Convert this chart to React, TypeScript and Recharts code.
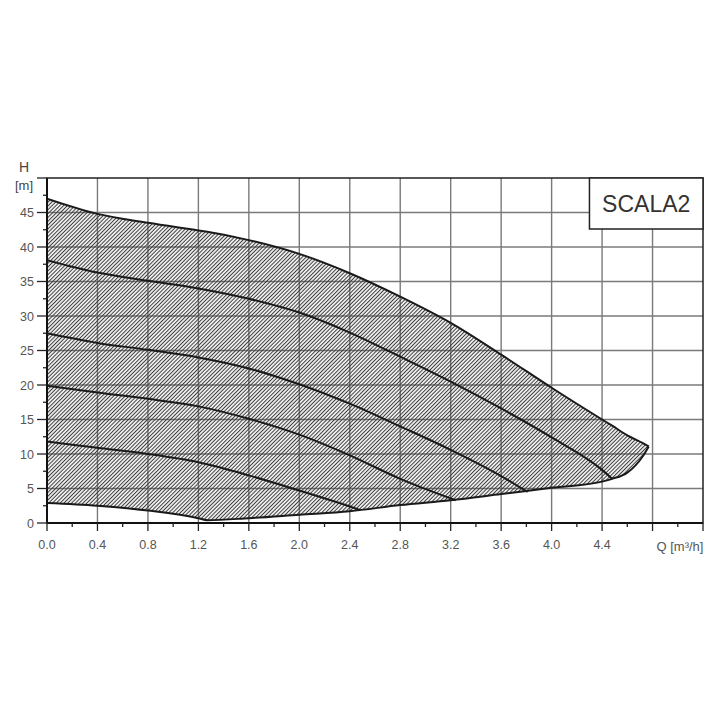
import { Area, CartesianGrid, ComposedChart, Label, Line, ReferenceArea, XAxis, YAxis } from "recharts";

// envelope of the operating range (shared Q points for upper and lower edge)
const envelopeQ = [0, 0.4, 0.8, 1.2, 1.27, 1.6, 2.0, 2.4, 2.8, 3.2, 3.6, 4.0, 4.4, 4.48, 4.6, 4.72, 4.77];
const envelopeTop = [47, 44.8, 43.5, 42.4, 42.2, 41.0, 39.0, 36.2, 32.8, 29.0, 24.4, 19.6, 15.0, 14.1, 12.7, 11.6, 11.1];
const envelopeBottom = [2.9, 2.5, 1.8, 0.7, 0.4, 0.7, 1.2, 1.7, 2.6, 3.3, 4.2, 5.1, 6.0, 6.4, 7.3, 9.6, 11.1];

// intermediate pump curves
const curve38Q = [0, 0.4, 0.8, 1.2, 1.6, 2.0, 2.4, 2.8, 3.2, 3.6, 4.0, 4.4, 4.48];
const curve38H = [38.1, 36.3, 35.1, 34.0, 32.5, 30.5, 27.6, 24.1, 20.5, 16.6, 12.4, 7.7, 6.4];

const curve27Q = [0, 0.4, 0.8, 1.2, 1.6, 2.0, 2.4, 2.8, 3.2, 3.6, 3.81];
const curve27H = [27.5, 26.1, 25.1, 24.0, 22.4, 20.1, 17.3, 14.0, 10.6, 6.8, 4.5];

const curve20Q = [0, 0.4, 0.8, 1.2, 1.6, 2.0, 2.4, 2.8, 3.24];
const curve20H = [19.9, 18.9, 18.0, 16.9, 15.1, 12.8, 9.8, 6.4, 3.3];

const curve12Q = [0, 0.4, 0.8, 1.2, 1.6, 2.0, 2.4, 2.48];
const curve12H = [11.8, 10.9, 10.0, 8.8, 6.9, 4.7, 2.4, 1.9];

// axes
const xTicks = [0, 0.2, 0.4, 0.6, 0.8, 1.0, 1.2, 1.4, 1.6, 1.8, 2.0, 2.2, 2.4, 2.6, 2.8, 3.0, 3.2, 3.4, 3.6, 3.8, 4.0, 4.2, 4.4, 4.6, 4.8, 5.0, 5.2];
const xGrid = [0.4, 0.8, 1.2, 1.6, 2.0, 2.4, 2.8, 3.2, 3.6, 4.0, 4.4, 4.8];
const xLabelTicks = [0, 0.4, 0.8, 1.2, 1.6, 2.0, 2.4, 2.8, 3.2, 3.6, 4.0, 4.4];
const xTickLabels = ["0.0", "0.4", "0.8", "1.2", "1.6", "2.0", "2.4", "2.8", "3.2", "3.6", "4.0", "4.4"];

const yTicks = [0, 2.5, 5, 7.5, 10, 12.5, 15, 17.5, 20, 22.5, 25, 27.5, 30, 32.5, 35, 37.5, 40, 42.5, 45, 47.5, 50];
const yGrid = [5, 10, 15, 20, 25, 30, 35, 40, 45];
const yLabelTicks = [0, 5, 10, 15, 20, 25, 30, 35, 40, 45];
const yTickLabels = ["0", "5", "10", "15", "20", "25", "30", "35", "40", "45"];

const envelopeData = envelopeQ.map((q, i) => ({ q, range: [envelopeBottom[i], envelopeTop[i]] }));
const toPoints = (qs: number[], hs: number[]) => qs.map((q, i) => ({ q, h: hs[i] }));
const curves = [
  toPoints(curve38Q, curve38H),
  toPoints(curve27Q, curve27H),
  toPoints(curve20Q, curve20H),
  toPoints(curve12Q, curve12H)
];

const FONT = "'Liberation Sans', Arial, sans-serif";
const near = (a: number, b: number) => Math.abs(a - b) < 1e-6;

function QTick(props: any) {
  const { x, y, payload } = props;
  const v = payload.value;
  const major = near(v / 0.4, Math.round(v / 0.4));
  const idx = xLabelTicks.findIndex((t) => near(t, v));
  return (
    <g>
      <line x1={x} x2={x} y1={y} y2={y + (major ? 8 : 4)} stroke="#222" strokeWidth={1.3} />
      {idx >= 0 && (
        <text x={x} y={y + 26} textAnchor="middle" fontSize={12.5} fontFamily={FONT} fill="#555">
          {xTickLabels[idx]}
        </text>
      )}
    </g>
  );
}

function HTick(props: any) {
  const { x, y, payload } = props;
  const v = payload.value;
  const major = near(v / 5, Math.round(v / 5));
  const idx = yLabelTicks.findIndex((t) => near(t, v));
  return (
    <g>
      <line x1={x - (major ? 10 : 4)} x2={x} y1={y} y2={y} stroke="#222" strokeWidth={1.3} />
      {idx >= 0 && (
        <text x={x - 13} y={y + 4.5} textAnchor="end" fontSize={12.5} fontFamily={FONT} fill="#555">
          {yTickLabels[idx]}
        </text>
      )}
    </g>
  );
}

export default function App() {
  return (
    <div style={{ position: "absolute", left: 0, top: 0, background: "#fff" }}>
      <ComposedChart width={720} height={720} margin={{ top: 178, right: 17, bottom: 167, left: 7 }}>
        <defs>
          <pattern id="hatch" width={2.7} height={2.7} patternUnits="userSpaceOnUse" patternTransform="rotate(45)">
            <line x1={1.35} y1={0} x2={1.35} y2={2.7} stroke="#3a3a3a" strokeWidth={1.1} />
          </pattern>
        </defs>
        <CartesianGrid stroke="#7a7a7a" strokeWidth={1.4} verticalValues={xGrid} horizontalValues={yGrid} />
        <XAxis
          type="number"
          dataKey="q"
          domain={[0, 5.2]}
          ticks={xTicks}
          interval={0}
          height={30}
          tickSize={0}
          tickMargin={0}
          tickLine={false}
          tick={(p: any) => <QTick {...p} />}
          axisLine={{ stroke: "#111", strokeWidth: 2 }}
          allowDataOverflow
        >
          <Label
            content={(p: any) => {
              const vb = p.viewBox;
              return (
                <text x={vb.x + vb.width - 23} y={vb.y + 28} textAnchor="middle" fontSize={13} fontFamily={FONT} fill="#555">
                  Q [m³/h]
                </text>
              );
            }}
          />
        </XAxis>
        <YAxis
          type="number"
          dataKey="h"
          domain={[0, 50]}
          ticks={yTicks}
          interval={0}
          width={40}
          tickSize={0}
          tickMargin={0}
          tickLine={false}
          tick={(p: any) => <HTick {...p} />}
          axisLine={{ stroke: "#111", strokeWidth: 2 }}
          allowDataOverflow
        >
          <Label
            content={(p: any) => {
              const vb = p.viewBox;
              const cx = vb.x + vb.width - 23;
              return (
                <g fontFamily={FONT} fill="#444" textAnchor="middle">
                  <text x={cx} y={vb.y - 6} fontSize={14}>H</text>
                  <text x={cx} y={vb.y + 12} fontSize={13}>[m]</text>
                </g>
              );
            }}
          />
        </YAxis>
        <Area
          data={envelopeData}
          dataKey="range"
          type="monotone"
          fill="url(#hatch)"
          fillOpacity={1}
          stroke="#1a1a1a"
          strokeWidth={2}
          isAnimationActive={false}
        />
        {curves.map((pts, i) => (
          <Line
            key={i}
            data={pts}
            dataKey="h"
            type="monotone"
            stroke="#1a1a1a"
            strokeWidth={2}
            dot={false}
            activeDot={false}
            isAnimationActive={false}
          />
        ))}
        <ReferenceArea x1={0} x2={5.2} y1={0} y2={50} fill="none" stroke="#222" strokeWidth={1.5} />
        <ReferenceArea x1={4.3} x2={5.2} y1={42.6} y2={50} fill="#fff" fillOpacity={1} stroke="#222" strokeWidth={1.5}>
          <Label value="SCALA2" position="center" fontSize={23} fontFamily={FONT} fill="#333" />
        </ReferenceArea>
      </ComposedChart>
    </div>
  );
}
